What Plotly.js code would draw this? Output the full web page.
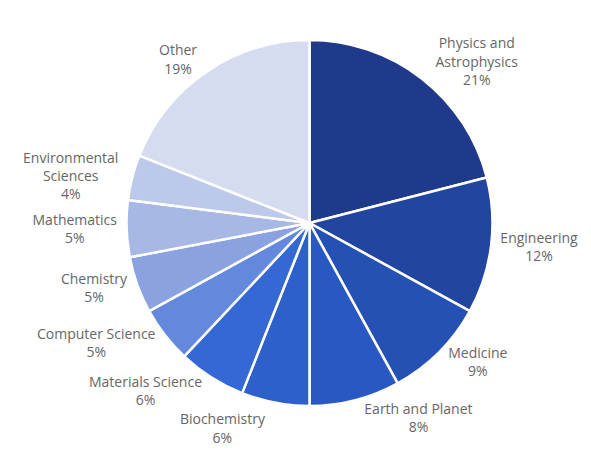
<!DOCTYPE html>
<html>
<head>
<meta charset="utf-8">
<script src="https://cdn.plot.ly/plotly-3.0.1.min.js"></script>
<style>html,body{margin:0;padding:0;background:#fff;}#chart{width:591px;height:459px;}#chart path.textline{display:none;}</style>
</head>
<body>
<div id="chart"></div>
<script>
const categories = ["Physics and<br>Astrophysics", "Engineering", "Medicine", "Earth and Planet", "Biochemistry", "Materials Science", "Computer Science", "Chemistry", "Mathematics", "Environmental<br>Sciences", "Other"];
const shares = [21, 12, 9, 8, 6, 6, 5, 5, 5, 4, 19];
const sliceColors = ["#1f3a8a", "#2246a0", "#2550b4", "#2a58c2", "#2e60cc", "#3468d4", "#6489dc", "#8aa2df", "#a8b8e4", "#bdc9ea", "#d5dcef"];

const labelText = categories.map((c, i) => c + "<br>" + shares[i] + "%");

Plotly.newPlot("chart", [{
  type: "pie",
  labels: categories,
  values: shares,
  text: labelText,
  textinfo: "text",
  textposition: "outside",
  sort: false,
  direction: "clockwise",
  rotation: 0,
  marker: {colors: sliceColors, line: {color: "#ffffff", width: 2.5}},
  textfont: {family: "Open Sans, sans-serif", size: 14, color: "#666666"},
  hoverinfo: "label+percent",
  showlegend: false
}], {
  width: 591, height: 459,
  margin: {l: 48, r: 20, t: 40, b: 53},
  paper_bgcolor: "#ffffff",
  showlegend: false
}, {displayModeBar: false, staticPlot: true});
</script>
</body>
</html>
